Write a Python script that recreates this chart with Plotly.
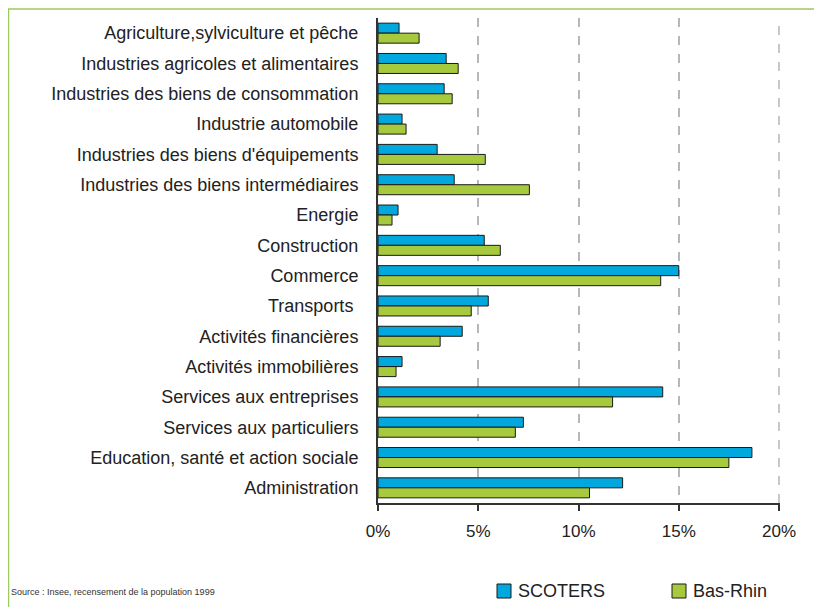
import plotly.graph_objects as go

# ---------------------------
# Données (en % des emplois)
# ---------------------------
secteurs = [
    "Agriculture,sylviculture et pêche",
    "Industries agricoles et alimentaires",
    "Industries des biens de consommation",
    "Industrie automobile",
    "Industries des biens d'équipements",
    "Industries des biens intermédiaires",
    "Energie",
    "Construction",
    "Commerce",
    "Transports ",
    "Activités financières",
    "Activités immobilières",
    "Services aux entreprises",
    "Services aux particuliers",
    "Education, santé et action sociale",
    "Administration",
]
scoters = [1.05, 3.4, 3.3, 1.2, 2.95, 3.8, 1.0, 5.3, 15.0, 5.5, 4.2, 1.2, 14.2, 7.25, 18.65, 12.2]
bas_rhin = [2.05, 4.0, 3.7, 1.4, 5.35, 7.55, 0.7, 6.1, 14.1, 4.65, 3.1, 0.9, 11.7, 6.85, 17.5, 10.55]

ticks_x = [0, 5, 10, 15, 20]
labels_x = ["0%", "5%", "10%", "15%", "20%"]

BLEU = "#00a8de"
VERT = "#a6c93e"
GRILLE = "#b4b8bc"
POLICE = "Liberation Sans, Arial, sans-serif"

# la page ajoute une marge de 8 px : on décale tout d'autant
D = 8
W, H = 822 - D, 607 - D
L, R, T, B = 378 - D, 42, 18 - D, 104


def px_x(x):
    # x en pixels de la capture -> coordonnées "paper"
    return (x - D - L) / (W - L - R)


def px_y(y):
    return (H - B - (y - D)) / (H - T - B)


fig = go.Figure()
fig.add_trace(go.Bar(
    y=secteurs, x=scoters, name="SCOTERS", orientation="h",
    marker=dict(color=BLEU, line=dict(color="#1a1a1a", width=1)),
))
fig.add_trace(go.Bar(
    y=secteurs, x=bas_rhin, name="Bas-Rhin", orientation="h",
    marker=dict(color=VERT, line=dict(color="#1a1a1a", width=1)),
))

fig.update_layout(
    width=W, height=H,
    margin=dict(l=L, r=R, t=T, b=B),
    plot_bgcolor="white", paper_bgcolor="white",
    barmode="group", bargap=0.34, bargroupgap=0,
    font=dict(family=POLICE, size=16, color="#222222"),
    showlegend=False,
    xaxis=dict(
        range=[0, 20.05], tickvals=ticks_x, ticktext=labels_x, automargin=False,
        showgrid=True, gridcolor=GRILLE, griddash="dash", gridwidth=1.5,
        zeroline=False, showline=True, linecolor="#333333", linewidth=2,
        ticks="outside", ticklen=6, tickcolor="#333333", tickwidth=2,
        ticklabelstandoff=6, tickfont=dict(size=17, color="#222222"),
    ),
    yaxis=dict(
        autorange="reversed", showgrid=False, zeroline=False, automargin=False,
        showline=True, linecolor="#333333", linewidth=2,
        ticks="", ticklabelstandoff=14, tickfont=dict(size=18, color="#222222"),
    ),
)

# ligne pointillée à 20 % (plotly ne la trace pas au bord)
fig.add_shape(type="line", xref="x", yref="paper", x0=ticks_x[-1], x1=ticks_x[-1],
              y0=0, y1=1, line=dict(color=GRILLE, width=1.5, dash="dash"), layer="below")

# cadre vert (haut et gauche)
fig.add_shape(type="line", xref="paper", yref="paper", x0=px_x(8), x1=px_x(830),
              y0=px_y(9), y1=px_y(9), line=dict(color="#9dcb5f", width=1.5))
fig.add_shape(type="line", xref="paper", yref="paper", x0=px_x(8.5), x1=px_x(8.5),
              y0=px_y(9), y1=px_y(615), line=dict(color="#9dcb5f", width=1.5))

# légende
for nom, couleur, x_carre in [("SCOTERS", BLEU, 497), ("Bas-Rhin", VERT, 672)]:
    fig.add_shape(type="rect", xref="paper", yref="paper",
                  x0=px_x(x_carre), x1=px_x(x_carre + 14), y0=px_y(598), y1=px_y(584),
                  fillcolor=couleur, line=dict(color="#1a1a1a", width=1))
    fig.add_annotation(text=nom, xref="paper", yref="paper",
                       x=px_x(x_carre + 19), y=px_y(591), xanchor="left", yanchor="middle",
                       showarrow=False, font=dict(size=18, color="#222222"))

# source
fig.add_annotation(
    text="Source : Insee, recensement de la population 1999",
    xref="paper", yref="paper", x=px_x(9), y=px_y(592),
    xanchor="left", yanchor="middle", showarrow=False,
    font=dict(family="Liberation Sans Narrow, Arial Narrow, sans-serif", size=9, color="#333333"),
)

fig.write_html("out.html")
